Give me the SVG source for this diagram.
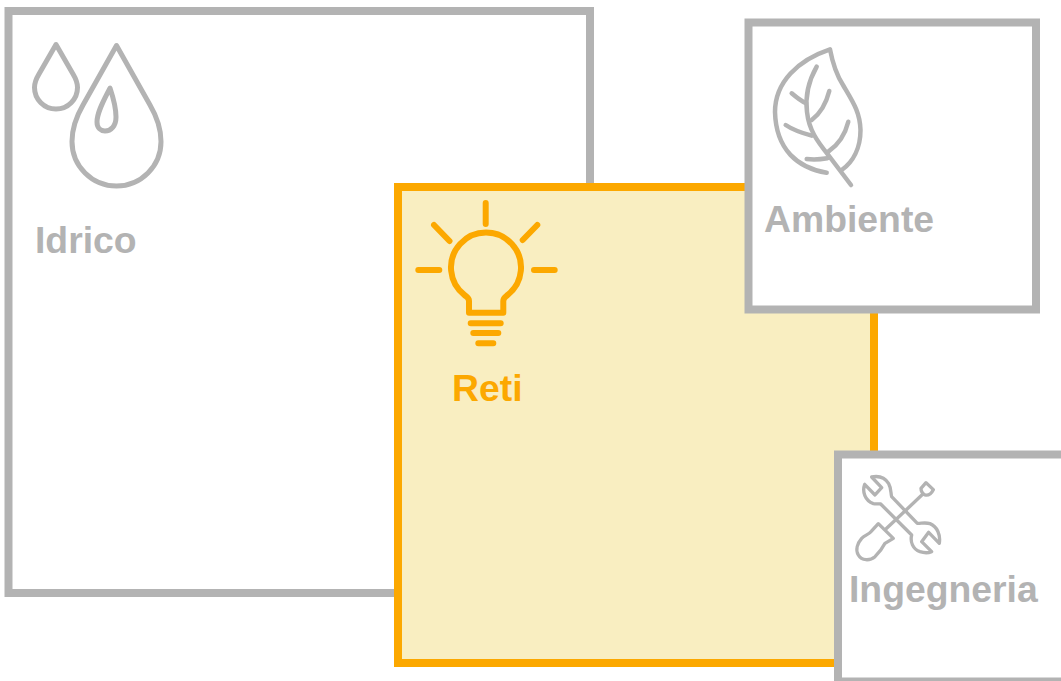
<svg xmlns="http://www.w3.org/2000/svg" width="1061" height="681" viewBox="0 0 1061 681">
<style>
.box{stroke-width:8;fill:#fff;stroke:#b3b3b3}
.ic{fill:none;stroke:#b3b3b3;stroke-width:5;stroke-linecap:round;stroke-linejoin:round}
.thin{stroke-width:4.500}
.lab{font-family:"Liberation Sans",Arial,sans-serif;font-weight:700;font-size:37.330px;fill:#b3b3b3}
</style>
<rect width="1061" height="681" fill="#fff"/>
<g id="idrico">
<rect class="box" x="8.500" y="11" width="581.500" height="582"/>
<path class="ic" d="M116.500 45.500L83 105C76 117 72 129 72 141.500A44.500 44.500 0 0 0 161 141.500C161 129 157 117 150 105Z"/>
<path class="ic" d="M56 44.500L39 74C36 79 34.500 83 34.500 87.500A21.500 21.500 0 0 0 77.500 87.500C77.500 83 76 79 73 74Z"/>
<path class="ic" d="M110 88C104 100 97 112 97 122C97 128 101 131 105 131C111 131 116 126 116 117C116 106 113 97 110 88Z"/>
<text class="lab" x="35" y="252.500">Idrico</text>
</g>
<g id="reti">
<rect x="398" y="187" width="476" height="476" fill="#f9eec1" stroke="#fca800" stroke-width="8"/>
<g fill="none" stroke="#fca800" stroke-width="6" stroke-linecap="round" stroke-linejoin="round">
<path d="M485.700 203V224M434 225L449.500 241M537.300 225L522.700 240M418.300 270H439.300M534 270H554.700"/>
<path d="M469 312.700V301C469 298 467 297 465 295.500A35 35 0 1 1 507 295.500C505 297 503.300 298 503.300 301V312.700Z"/>
<path d="M470.700 323.300H500.700M473.300 333H498.300M478.300 343.300H493.300"/>
</g>
<text x="452" y="400.500" font-family="'Liberation Sans',Arial,sans-serif" font-weight="700" font-size="37.330" fill="#fca800">Reti</text>
</g>
<g id="ambiente">
<rect class="box" x="748.500" y="22.500" width="287.500" height="287"/>
<path class="ic thin" d="M826.700 172.700C798 168 776 150 775 112C775 82 798 60 830 49.300C833 65 836 74 843 85C853 102 860 112 860.500 130C860.500 148 853 162 841.700 170"/>
<path class="ic thin" d="M816.700 66.700C808 82 805 96 807 112C809 130 817 141 828.300 155L851 185"/>
<path class="ic thin" d="M791.700 93.300C796 97 801 101 806 103.300M829.300 91C826 104 821 113 811.700 120M785.700 125C793 130 802 133 811.700 135.700M848.300 121.700C845 135 838 145 828.300 151.700M806.700 159C814 160 820 159.500 827.300 158.300"/>
<text class="lab" x="764" y="232">Ambiente</text>
</g>
<g id="ingegneria">
<rect class="box" x="838" y="454.500" width="227" height="227"/>
<g transform="translate(830 445) scale(.3333)" fill="none" stroke="#b3b3b3" stroke-width="10" stroke-linecap="round" stroke-linejoin="round">
<path d="M125 96L155 128L135 150L104 118C96 140 105 168 130 176C140 178 146 176 152 177L245 270C240 290 248 312 270 320C282 324 295 324 305 320L275 290L296 262L328 295C332 270 322 245 300 236C285 231 272 236 262 235L185 155C182 145 184 130 176 116C165 98 145 92 125 96Z"/>
<path d="M288 113L310 134C304 146 294 152 285 150C277 146 273 138 273 130ZM278 148L170 250"/>
<path d="M145 236L190 280L165 295C160 305 150 320 135 335C120 348 95 348 85 330C76 315 82 295 95 280C105 270 115 270 125 258Z"/>
</g>
<text class="lab" x="849" y="601.500">Ingegneria</text>
</g>
</svg>
